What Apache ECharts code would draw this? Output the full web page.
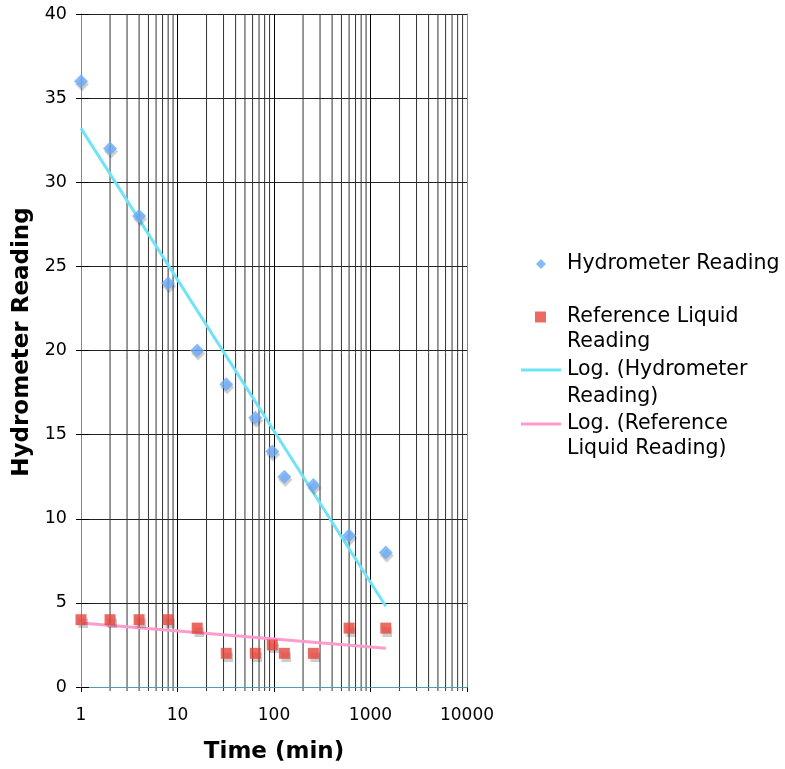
<!DOCTYPE html>
<html>
<head>
<meta charset="utf-8">
<script src="https://cdn.jsdelivr.net/npm/echarts@6/dist/echarts.min.js"></script>
<style>
  html, body { margin: 0; padding: 0; background: #fff; }
  #chart { width: 785px; height: 769px; }
</style>
</head>
<body>
<div id="chart"></div>
<script>
// readings, time in minutes
var times = [1, 2, 4, 8, 16, 32, 64, 96, 128, 256, 600, 1440];
var hydroReading = [36, 32, 28, 24, 20, 18, 16, 14, 12.5, 12, 9, 8];
var refReading = [4, 4, 4, 4, 3.5, 2, 2, 2.5, 2, 2, 3.5, 3.5];

// log trendline end points
var trendX = [1, 1440];
var hydroTrend = [33.2, 4.8];
var refTrend = [3.8, 2.3];

var xTicks = [1, 10, 100, 1000, 10000];
var decades = [1, 10, 100, 1000];

var font = 'DejaVu Sans';
var legendFont = '20.5px "DejaVu Sans"';

function pairs(xs, ys) {
    var out = [];
    for (var i = 0; i < xs.length; i++) out.push([xs[i], ys[i]]);
    return out;
}

// minor vertical grid lines 2..9 in each decade
var minorX = [];
decades.forEach(function (d) {
    for (var k = 2; k <= 9; k++) minorX.push(k * d);
});

var chart = echarts.init(document.getElementById('chart'));

var border = '#4a9fb3';

// one legend per entry so each icon can have its own size
function legendBox(name, icon, left, top, w, h, pad) {
    return {
        orient: 'vertical',
        left: left,
        top: top,
        padding: 0,
        itemWidth: w,
        itemHeight: h,
        itemGap: 0,
        itemStyle: { shadowColor: 'transparent', shadowBlur: 0, shadowOffsetX: 0, shadowOffsetY: 0 },
        formatter: function (n) { return '{s|}{t|' + n + '}'; },
        textStyle: {
            fontFamily: font, fontSize: 20.5, color: '#000', lineHeight: 26,
            rich: {
                s: { width: pad },
                t: { fontFamily: font, fontSize: 20.5, color: '#000', lineHeight: 26 }
            }
        },
        data: [{ name: name, icon: icon }]
    };
}

var option = {
    backgroundColor: '#fff',
    animation: false,
    grid: {
        left: 81,
        right: 318,
        top: 14,
        bottom: 81
    },
    legend: [
        legendBox('Hydrometer Reading', 'diamond', 536, 251, 10, 10, 16),
        legendBox('Reference Liquid', 'rect', 535, 304, 11, 11, 16),
        legendBox('Log. (Hydrometer', 'rect', 521, 357, 40, 3, 1),
        legendBox('Log. (Reference', 'rect', 521, 411, 40, 3, 1)
    ],
    graphic: [
        { type: 'text', x: 567, y: 342, style: { text: 'Reading', font: legendFont, fill: '#000', verticalAlign: 'middle' } },
        { type: 'text', x: 567, y: 397, style: { text: 'Reading)', font: legendFont, fill: '#000', verticalAlign: 'middle' } },
        { type: 'text', x: 567, y: 449, style: { text: 'Liquid Reading)', font: legendFont, fill: '#000', verticalAlign: 'middle' } }
    ],
    xAxis: [{
        type: 'log',
        logBase: 10,
        min: 1,
        max: 10000,
        name: 'Time (min)',
        nameLocation: 'middle',
        nameGap: 54,
        nameTextStyle: { fontFamily: font, fontSize: 23, fontWeight: 'bold', color: '#000' },
        axisLine: { lineStyle: { color: border, width: 1 } },
        axisTick: { show: true, length: 5, lineStyle: { color: '#000' } },
        axisLabel: {
            margin: 20,
            fontFamily: font, fontSize: 17, color: '#000',
            formatter: function (v) { return xTicks.indexOf(v) >= 0 ? String(v) : ''; }
        },
        splitLine: { show: true, lineStyle: { color: '#000', width: 1 } }
    }, {
        type: 'value',
        position: 'top',
        min: 0, max: 1,
        z: 5,
        axisLine: { show: true, lineStyle: { color: border } },
        axisTick: { show: false },
        axisLabel: { show: false },
        splitLine: { show: false }
    }],
    yAxis: [{
        type: 'value',
        min: 0,
        max: 40,
        interval: 5,
        name: 'Hydrometer Reading',
        nameLocation: 'middle',
        nameGap: 47,
        nameTextStyle: { fontFamily: font, fontSize: 23, fontWeight: 'bold', color: '#000', padding: [0, 0, 0, 17] },
        axisLine: { show: true, lineStyle: { color: border, width: 1 } },
        axisTick: { show: true, length: 5, lineStyle: { color: '#000' } },
        axisLabel: { margin: 14, fontFamily: font, fontSize: 17.5, color: '#000' },
        splitLine: { show: true, lineStyle: { color: '#222', width: 1 } }
    }, {
        type: 'value',
        position: 'right',
        min: 0, max: 1,
        z: 5,
        axisLine: { show: true, lineStyle: { color: border } },
        axisTick: { show: false },
        axisLabel: { show: false },
        splitLine: { show: false }
    }, {
        // inner half of the crossing ticks on the left axis
        type: 'value',
        position: 'left',
        offset: 0,
        min: 0,
        max: 40,
        interval: 5,
        z: 5,
        axisLine: { show: false },
        axisTick: { show: true, inside: true, length: 8, lineStyle: { color: '#000' } },
        axisLabel: { show: false },
        splitLine: { show: false }
    }],
    series: [
        {
            name: 'minor grid',
            type: 'custom',
            z: 1,
            silent: true,
            clip: false,
            data: minorX,
            encode: { x: 0 },
            renderItem: function (params, api) {
                var v = api.value(0);
                var p0 = api.coord([v, 0]);
                var p1 = api.coord([v, 40]);
                return {
                    type: 'line',
                    shape: { x1: p0[0], y1: p0[1] + 4, x2: p1[0], y2: p1[1] },
                    style: { stroke: '#333', lineWidth: 1 }
                };
            }
        },
        {
            name: 'Log. (Hydrometer',
            type: 'line',
            z: 3,
            data: pairs(trendX, hydroTrend),
            symbol: 'none',
            lineStyle: { color: '#6fe3f7', width: 3 },
            itemStyle: { color: '#6fe3f7' }
        },
        {
            name: 'Log. (Reference',
            type: 'line',
            z: 3,
            data: pairs(trendX, refTrend),
            symbol: 'none',
            lineStyle: { color: '#ff9ccd', width: 3 },
            itemStyle: { color: '#ff9ccd' }
        },
        {
            name: 'Hydrometer Reading',
            type: 'scatter',
            z: 4,
            symbol: 'diamond',
            symbolSize: 14,
            data: pairs(times, hydroReading),
            itemStyle: {
                color: '#6aaaf8',
                shadowColor: 'rgba(0,0,0,0.25)',
                shadowBlur: 1,
                shadowOffsetX: 1,
                shadowOffsetY: 3
            }
        },
        {
            name: 'Reference Liquid',
            type: 'scatter',
            z: 4,
            symbol: 'rect',
            symbolSize: 11,
            data: pairs(times, refReading),
            itemStyle: {
                color: '#e8453c',
                shadowColor: 'rgba(0,0,0,0.25)',
                shadowBlur: 1,
                shadowOffsetX: 1,
                shadowOffsetY: 3
            }
        }
    ]
};

chart.setOption(option);
</script>
</body>
</html>
